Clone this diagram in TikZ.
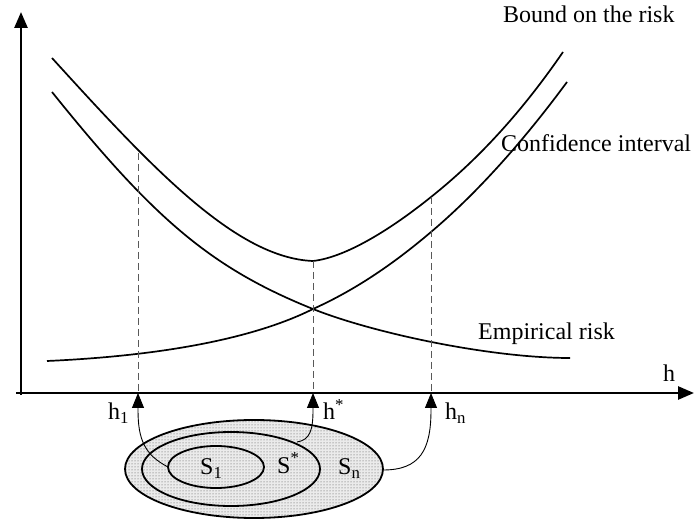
\documentclass[tikz,border=0pt]{standalone}
\usepackage{fontspec}
\setmainfont{Liberation Serif}
\usetikzlibrary{arrows.meta,patterns}
\begin{document}
\begin{tikzpicture}[x=1pt,y=-1pt,
  axis/.style={line width=2.6pt,-{Triangle[length=16pt,width=13pt]}},
  curve/.style={line width=1.7pt},
  guide/.style={line width=0.8pt,dash pattern=on 7pt off 4pt,gray!70!black},
  conn/.style={line width=0.9pt,-{Triangle[length=15pt,width=12pt]}},
  ell/.style={line width=1.8pt},
  lbl/.style={font=\fontsize{24}{28}\selectfont,inner sep=0pt}]
\useasboundingbox (0,0) rectangle (694,521);
% ellipses
\fill[black!8] (254,469) ellipse [x radius=129,y radius=49];
\fill[pattern=dots,pattern color=black!70] (254,469) ellipse [x radius=129,y radius=49];
\draw[ell] (254,469) ellipse [x radius=129,y radius=49];
\draw[ell] (231,469) ellipse [x radius=89,y radius=37];
\draw[ell] (216,467) ellipse [x radius=48,y radius=21];
% axes
\coordinate (ytip) at (21,12);
\coordinate (xtip) at (694,393);
\coordinate (xs) at (16,393);
\coordinate (ys) at (21,395);
\draw[axis] (ys) -- (ytip);
\draw[axis] (xs) -- (xtip);
% curves
\coordinate (m1) at (313,261);
\coordinate (m2) at (313,309);
\draw[curve] (52,58) .. controls (152,168) and (236,258) .. (m1)
  .. controls (348,257) and (395,226) .. (431,197)
  .. controls (475,162) and (519,116) .. (563,52);
\draw[curve] (52,92) .. controls (154,219) and (211,268) .. (m2)
  .. controls (373,333) and (490,358) .. (570,358);
\draw[curve] (47,361) .. controls (137,357) and (243,344) .. (m2)
  .. controls (353,291) and (391,266) .. (431,232)
  .. controls (476,194) and (522,143) .. (567,82);
% guide coordinates
\coordinate (g1) at (138,153);
\coordinate (g3) at (431,197);
\coordinate (a1) at (138,393);
\coordinate (a2) at (313,393);
\coordinate (a3) at (431,393);
\draw[guide] (g1) -- (a1);
\draw[guide] (m1) -- (a2);
\draw[guide] (g3) -- (a3);
% connectors
\coordinate (e1) at (168,467);
\coordinate (e2) at (297,442);
\coordinate (e3) at (383,470);
\draw[conn] (e1) .. controls (145,455) and (138,440) .. (138,410) -- (a1);
\draw[conn] (e2) .. controls (310,440) and (313,430) .. (313,410) -- (a2);
\draw[conn] (e3) .. controls (420,470) and (431,450) .. (431,410) -- (a3);
% labels
\node[lbl,anchor=base west] (lb) at (503,23) {Bound on the risk};
\node[lbl,anchor=base west] (lc) at (501,152) {Confidence interval};
\node[lbl,anchor=base west] (le) at (478,340) {Empirical risk};
\node[lbl,anchor=base west] (lh) at (663,382) {h};
\node[lbl,anchor=base west] (h1) at (108,420) {h\textsubscript{1}};
\node[lbl,anchor=base west] (hs) at (323,420) {h\textsuperscript{*}};
\node[lbl,anchor=base west] (hn) at (445,420) {h\textsubscript{n}};
\node[lbl,anchor=base west] (s1) at (200,475) {S\textsubscript{1}};
\node[lbl,anchor=base west] (ss) at (277,473) {S\textsuperscript{*}};
\node[lbl,anchor=base west] (sn) at (338,475) {S\textsubscript{n}};
\end{tikzpicture}
\end{document}
